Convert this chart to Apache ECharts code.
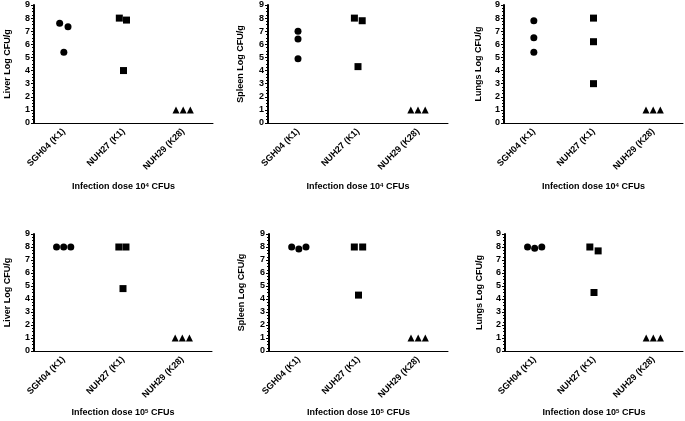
<!DOCTYPE html>
<html>
<head>
<meta charset="utf-8">
<script src="https://cdn.jsdelivr.net/npm/echarts@6/dist/echarts.min.js"></script>
<style>
html,body{margin:0;padding:0;background:#fff;}
#c{width:685px;height:421px;}
</style>
</head>
<body>
<div id="c"></div>
<script>
// ---- data ----
const categories = ['SGH04 (K1)', 'NUH27 (K1)', 'NUH29 (K28)'];
const organs = ['Liver', 'Spleen', 'Lungs'];
const doseExponents = ['4', '5'];
const yTicks = [0, 1, 2, 3, 4, 5, 6, 7, 8, 9];

// values per panel: [SGH04, NUH27, NUH29]
const liver4  = [[7.6, 7.35, 5.4], [8.0, 7.85, 4.0], [1, 1, 1]];
const spleen4 = [[7.0, 6.4, 4.9],  [8.0, 7.8, 4.3],  [1, 1, 1]];
const lungs4  = [[7.8, 6.5, 5.4],  [8.0, 6.2, 3.0],  [1, 1, 1]];
const liver5  = [[8.0, 8.0, 8.0],  [8.0, 8.0, 4.8],  [1, 1, 1]];
const spleen5 = [[8.0, 7.85, 8.0], [8.0, 8.0, 4.3],  [1, 1, 1]];
const lungs5  = [[8.0, 7.9, 8.0],  [8.0, 7.7, 4.5],  [1, 1, 1]];

// horizontal scatter (jitter) of replicates, in category units
const jit4 = {
  Liver:  [[-0.07, 0.07, 0], [-0.07, 0.05, 0], [-0.12, 0, 0.12]],
  Spleen: [[0, 0, 0], [-0.06, 0.07, 0], [-0.12, 0, 0.12]],
  Lungs:  [[0, 0, 0], [0, 0, 0], [-0.12, 0, 0.12]]
};
const jit5 = {
  Liver:  [[-0.12, 0, 0.12], [-0.07, 0.05, 0], [-0.12, 0, 0.12]],
  Spleen: [[-0.12, 0, 0.12], [-0.07, 0.07, 0], [-0.12, 0, 0.12]],
  Lungs:  [[-0.12, 0, 0.12], [-0.07, 0.07, 0], [-0.12, 0, 0.12]]
};

const panelValues = [[liver4, spleen4, lungs4], [liver5, spleen5, lungs5]];
const panelJitter = [jit4, jit5];

// ---- layout ----
const gridBoxes = [
  [{left: 34, top: 5, width: 179, height: 118}, {left: 268, top: 5, width: 180, height: 118}, {left: 504, top: 5, width: 179, height: 118}],
  [{left: 34, top: 234, width: 178, height: 118}, {left: 269, top: 234, width: 179, height: 118}, {left: 505, top: 234, width: 178, height: 118}]
];
const yNameGaps = [22, 23, 21];
const xNameGaps = [59, 57];
const symbols = ['circle', 'rect', 'triangle'];
const FONT = 'Liberation Sans, Arial, sans-serif';

const grids = [], xAxes = [], yAxes = [], series = [];
let p = 0;
for (let r = 0; r < 2; r++) {
  for (let c = 0; c < 3; c++) {
    const g = gridBoxes[r][c];
    grids.push(Object.assign({containLabel: false}, g));
    xAxes.push({
      type: 'category', gridIndex: p, data: categories,
      boundaryGap: true,
      axisLine: {onZero: false, lineStyle: {color: '#000', width: 1}},
      axisTick: {alignWithLabel: true, length: 3, lineStyle: {color: '#000'}},
      axisLabel: {rotate: 45, margin: 7, color: '#000', fontSize: 9, fontWeight: 'bold', fontFamily: FONT, interval: 0},
      name: 'Infection dose 10{sup|' + doseExponents[r] + '} CFUs',
      nameLocation: 'middle', nameGap: xNameGaps[r],
      nameTextStyle: {color: '#000', fontSize: 9, fontWeight: 'bold', fontFamily: FONT,
        rich: {sup: {fontSize: 6, fontWeight: 'bold', fontFamily: FONT, color: '#000', verticalAlign: 'top', padding: [0, 0, 6, 0], lineHeight: 6}}},
      splitLine: {show: false}
    });
    xAxes.push({
      type: 'value', gridIndex: p, min: -0.5, max: 2.5, show: false
    });
    yAxes.push({
      type: 'value', gridIndex: p, min: yTicks[0], max: yTicks[yTicks.length - 1], interval: 1,
      axisLine: {show: true, onZero: false, lineStyle: {color: '#000', width: 2}},
      axisTick: {show: true, length: 3, lineStyle: {color: '#000', width: 1}},
      minorTick: {show: true, splitNumber: 4, length: 2, lineStyle: {color: '#000', width: 1}},
      axisLabel: {color: '#000', fontSize: 9, fontWeight: 'bold', fontFamily: FONT, margin: 4},
      splitLine: {show: false},
      name: organs[c] + ' Log CFU/g', nameLocation: 'middle', nameGap: yNameGaps[c],
      nameTextStyle: {color: '#000', fontSize: 9, fontWeight: 'bold', fontFamily: FONT}
    });
    const vals = panelValues[r][c];
    const jit = panelJitter[r][organs[c]];
    for (let i = 0; i < categories.length; i++) {
      series.push({
        type: 'scatter', xAxisIndex: 2 * p + 1, yAxisIndex: p,
        symbol: symbols[i], symbolSize: 7,
        itemStyle: {color: '#000', opacity: 1},
        silent: true,
        data: vals[i].map((v, k) => [i + jit[i][k], v])
      });
    }
    p++;
  }
}

const chart = echarts.init(document.getElementById('c'), null, {renderer: 'canvas'});
chart.setOption({
  animation: false,
  backgroundColor: '#fff',
  grid: grids, xAxis: xAxes, yAxis: yAxes, series: series
});
</script>
</body>
</html>
